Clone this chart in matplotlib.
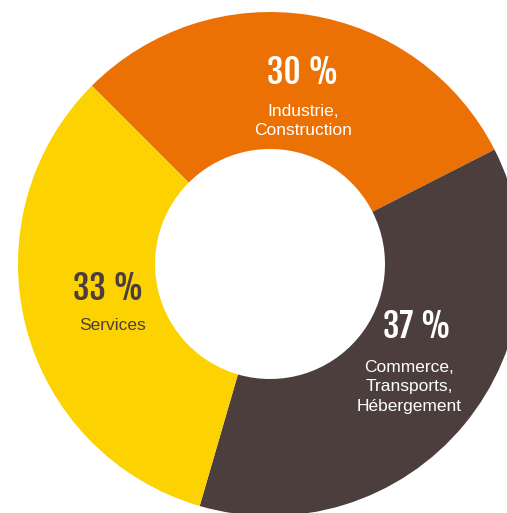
import matplotlib
matplotlib.use("Agg")
import matplotlib.pyplot as plt

categories = ["Industrie,\nConstruction", "Commerce,\nTransports,\nHébergement", "Services"]
values = [30, 37, 33]
pct_labels = ["30 %", "37 %", "33 %"]
colors = ["#EC7105", "#4B3E3D", "#FCD200"]
text_colors = ["white", "white", "#4B3E3D"]

W, H = 507, 513
fig = plt.figure(figsize=(W / 100, H / 100), dpi=100)
ax = fig.add_axes([0, 0, 1, 1])

cx, cy = 270, H - 264
R = 252
inner = 115
ax.pie(values, colors=colors, startangle=135, counterclock=False,
       center=(cx, cy), radius=R,
       wedgeprops=dict(width=R - inner, edgecolor="none", linewidth=0))
ax.set_xlim(0, W)
ax.set_ylim(0, H)
ax.set_aspect("equal", adjustable="box")
ax.axis("off")

# label positions (pixel coordinates from top-left)
pct_pos = [(303, 72), (417, 327), (108, 288)]
cat_pos = [(303, 121), (409, 387), (113, 326)]

pct_font = dict(family=["Fjalla One", "DejaVu Sans"], size=24)
cat_font = dict(family=["Liberation Sans", "DejaVu Sans"], size=12.5)

for lab, cat, (px, py), (qx, qy), tc in zip(pct_labels, categories, pct_pos, cat_pos, text_colors):
    ax.text(px, H - py, lab, ha="center", va="center", color=tc, **pct_font)
    ax.text(qx, H - qy, cat, ha="center", va="center", color=tc,
            linespacing=1.4, **cat_font)

fig.savefig("out.png", dpi=100, facecolor="white")
